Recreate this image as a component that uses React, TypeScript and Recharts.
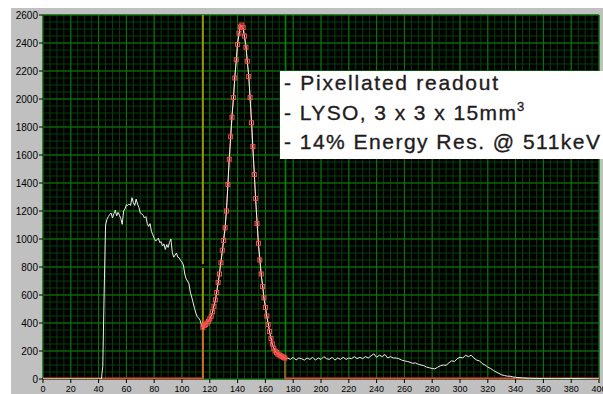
import { LineChart, Line, XAxis, YAxis, CartesianGrid, ReferenceLine } from "recharts";

// energy spectrum (channel -> counts)
const channels = [
  0, 20, 42,
  43, 44, 45, 46, 47, 48, 49, 50, 51, 52, 53, 54, 55, 56, 57, 58, 59, 60,
  61, 62, 63, 64, 65, 66, 67, 68, 69, 70, 71, 72, 73, 74, 75, 76, 77, 78, 79, 80,
  81, 82, 83, 84, 85, 86, 87, 88, 89, 90, 91, 92, 93, 94, 95, 96, 97, 98, 99, 100,
  101, 102, 103, 104, 105, 106, 107, 108, 109, 110, 111, 112, 113, 114, 115,
  116, 117, 118, 119, 120, 121, 122, 123, 124, 125, 126, 127, 128, 129, 130,
  131, 132, 133, 134, 135, 136, 137, 138, 139, 140, 141, 142, 143, 144, 145,
  146, 147, 148, 149, 150, 151, 152, 153, 154, 155, 156, 157, 158, 159, 160,
  161, 162, 163, 164, 165, 166, 167, 168, 169, 170, 171, 172, 173, 174, 175, 176,
  178, 180, 182, 184, 186, 188, 190, 192, 194, 196, 198, 200, 202, 204, 206, 208,
  210, 212, 214, 216, 218, 220, 222, 224, 226, 228, 230, 232, 234, 236, 238, 240,
  242, 244, 246, 248, 250, 252, 254, 256, 258, 260, 262, 264, 266, 268, 270, 272,
  274, 276, 278, 280, 282, 284, 286, 288, 290, 292, 294, 296, 298, 300, 302, 304,
  306, 308, 310, 312, 314, 316, 318, 320, 322, 324, 326, 328, 330, 332, 334, 336,
  338, 340, 345, 350, 360, 370, 380, 390, 400,
];
const counts = [
  0, 0, 0,
  90, 620, 1100, 1140, 1160, 1175, 1185, 1150, 1180, 1205, 1165, 1190, 1170, 1145, 1105, 1200, 1215, 1245,
  1240, 1250, 1240, 1295, 1260, 1240, 1285, 1250, 1225, 1185, 1180, 1170, 1150, 1160, 1110, 1090, 1110, 1055, 1030, 1005,
  985, 995, 1005, 975, 980, 950, 965, 925, 960, 940, 975, 1000, 905, 870, 885, 900, 870, 865, 845, 835,
  815, 750, 715, 700, 680, 620, 585, 545, 505, 470, 445, 435, 420, 385, 360,
  378, 395, 398, 418, 425, 452, 478, 528, 560, 625, 685, 760, 840, 910, 1000,
  1075, 1210, 1380, 1575, 1720, 1885, 2000, 2160, 2270, 2400, 2460, 2530, 2520, 2500, 2440,
  2380, 2260, 2170, 2000, 1840, 1650, 1470, 1280, 1120, 960, 860, 740, 670, 570, 520,
  445, 400, 335, 295, 240, 225, 195, 190, 170, 180, 160, 165, 150, 155, 145, 150,
  140, 155, 135, 150, 145, 135, 150, 140, 155, 135, 150, 140, 160, 145, 140, 155,
  135, 150, 140, 155, 140, 150, 145, 160, 145, 155, 145, 160, 150, 165, 180, 155,
  170, 160, 175, 150, 160, 150, 150, 145, 135, 130, 125, 120, 112, 115, 105, 100,
  95, 85, 80, 75, 72, 85, 95, 100, 98, 115, 130, 125, 145, 155, 150, 170,
  160, 170, 150, 135, 130, 110, 100, 85, 75, 62, 50, 40, 30, 25, 20, 20,
  15, 12, 8, 5, 3, 2, 4, 2, 0,
];

// gaussian fit points (red squares) between the two cursors
const fitChannels = [
  115, 116, 117, 118, 119, 120, 121, 122, 123, 124, 125, 126, 127, 128, 129, 130,
  131, 132, 133, 134, 135, 136, 137, 138, 139, 140, 141, 142, 143, 144, 145,
  146, 147, 148, 149, 150, 151, 152, 153, 154, 155, 156, 157, 158, 159, 160,
  161, 162, 163, 164, 165, 166, 167, 168, 169, 170, 171, 172, 173, 174,
];
const fitCounts = [
  370, 382, 390, 400, 412, 428, 448, 480, 520, 565, 618, 690, 750, 830, 920, 990,
  1080, 1200, 1390, 1570, 1730, 1870, 2010, 2150, 2280, 2390, 2470, 2515, 2528, 2510, 2450,
  2370, 2270, 2160, 2010, 1830, 1660, 1460, 1290, 1110, 970, 850, 750, 660, 580, 510,
  450, 390, 340, 290, 250, 220, 200, 188, 178, 172, 166, 160, 155, 150,
];

const fitLow = 115;
const fitHigh = 174;
const cursorLeft = 115;
const cursorRight = 174.3;

const xTicks = [0, 20, 40, 60, 80, 100, 120, 140, 160, 180, 200, 220, 240, 260, 280, 300, 320, 340, 360, 380, 400];
const yTicks = [0, 200, 400, 600, 800, 1000, 1200, 1400, 1600, 1800, 2000, 2200, 2400, 2600];

const xMinor = Array.from({ length: 81 }, (_, i) => i * 5);
const yMinor = Array.from({ length: 53 }, (_, i) => i * 50);

const spectrumData = channels.map((x, i) => ({ x, y: counts[i] }));
const fitPoints = fitChannels.map((x, i) => ({ x, y: fitCounts[i] }));
const fitCurve = [{ x: fitLow, y: 0 }, ...fitPoints, { x: fitHigh, y: 0 }];
// fit is zero outside the region of interest
const fitBase = [
  { x: 0, y: 0 },
  { x: fitLow, y: 0 },
  { x: fitLow + 1, y: null },
  { x: fitHigh - 1, y: null },
  { x: fitHigh, y: 0 },
  { x: 400, y: 0 },
];

const tickFont = '"Liberation Sans Narrow", "Liberation Sans", Arial, sans-serif';

const SquareDot = (p: any) => (
  <rect
    key={`sq-${p.index}`}
    x={p.cx - 2}
    y={p.cy - 2}
    width={4}
    height={4}
    fill="none"
    stroke="#ff4d4d"
    strokeWidth={1}
  />
);

export default function App() {
  return (
    <div style={{ position: "absolute", left: 0, top: 0, width: 603, height: 394, overflow: "hidden", background: "#fff" }}>
      <div style={{ position: "absolute", left: 11, top: 8, width: 592, height: 386, background: "#c0c0c0" }} />
      <div style={{ position: "absolute", left: 8, top: 8 }}>
        <LineChart width={595} height={386} margin={{ top: 7, right: 4, bottom: 0, left: 0 }}>
          <CartesianGrid
            fill="#000"
            fillOpacity={1}
            stroke="#073f07"
            verticalValues={xMinor}
            horizontalValues={yMinor}
          />
          <CartesianGrid stroke="#0b7a0b" verticalValues={xTicks} horizontalValues={yTicks} />
          <XAxis
            type="number"
            dataKey="x"
            domain={[0, 400]}
            ticks={xTicks}
            interval={0}
            allowDataOverflow
            axisLine={false}
            tickSize={4}
            tickMargin={3}
            height={15}
            tickLine={{ stroke: "#000" }}
            tick={{ fill: "#000", fontSize: 9, fontFamily: tickFont }}
          />
          <YAxis
            type="number"
            dataKey="y"
            domain={[0, 2600]}
            ticks={yTicks}
            interval={0}
            allowDataOverflow
            axisLine={false}
            width={35}
            tickSize={4}
            tickMargin={1}
            tickLine={{ stroke: "#000" }}
            tick={{ fill: "#000", fontSize: 10, fontFamily: tickFont }}
          />
          <ReferenceLine
            segment={[{ x: cursorLeft, y: 0 }, { x: cursorLeft, y: 793 }]}
            stroke="#949a00"
            strokeWidth={2}
          />
          <ReferenceLine
            segment={[{ x: cursorLeft, y: 821 }, { x: cursorLeft, y: 2600 }]}
            stroke="#949a00"
            strokeWidth={2}
          />
          <ReferenceLine x={cursorRight} stroke="#00a800" strokeWidth={1} />
          <Line
            data={fitBase}
            dataKey="y"
            type="linear"
            stroke="#ff3b3b"
            strokeWidth={3}
            dot={false}
            activeDot={false}
            isAnimationActive={false}
          />
          <Line
            data={fitCurve}
            dataKey="y"
            type="linear"
            stroke="#ff5050"
            strokeWidth={1}
            dot={false}
            activeDot={false}
            isAnimationActive={false}
          />
          <Line
            data={spectrumData}
            dataKey="y"
            type="linear"
            stroke="#eeeeee"
            strokeWidth={1}
            dot={false}
            activeDot={false}
            isAnimationActive={false}
          />
          <Line
            data={fitPoints}
            dataKey="y"
            type="linear"
            stroke="none"
            dot={SquareDot}
            activeDot={false}
            isAnimationActive={false}
          />
        </LineChart>
      </div>
      <svg
        width={323}
        height={88}
        style={{ position: "absolute", left: 280, top: 71 }}
        fontFamily='"Liberation Sans", Arial, sans-serif'
        fontSize={21}
        fill="#1f1c1d"
        stroke="#1f1c1d"
        strokeWidth={0.35}
      >
        <rect width={323} height={88} fill="#fff" stroke="none" />
        <text x={4} y={19} textLength={214} lengthAdjust="spacing">- Pixellated readout</text>
        <text x={4} y={49} textLength={232} lengthAdjust="spacing">- LYSO, 3 x 3 x 15mm</text>
        <text x={237} y={40} fontSize={13}>3</text>
        <text x={4} y={78} textLength={316} lengthAdjust="spacing">- 14% Energy Res. @ 511keV</text>
      </svg>
    </div>
  );
}
